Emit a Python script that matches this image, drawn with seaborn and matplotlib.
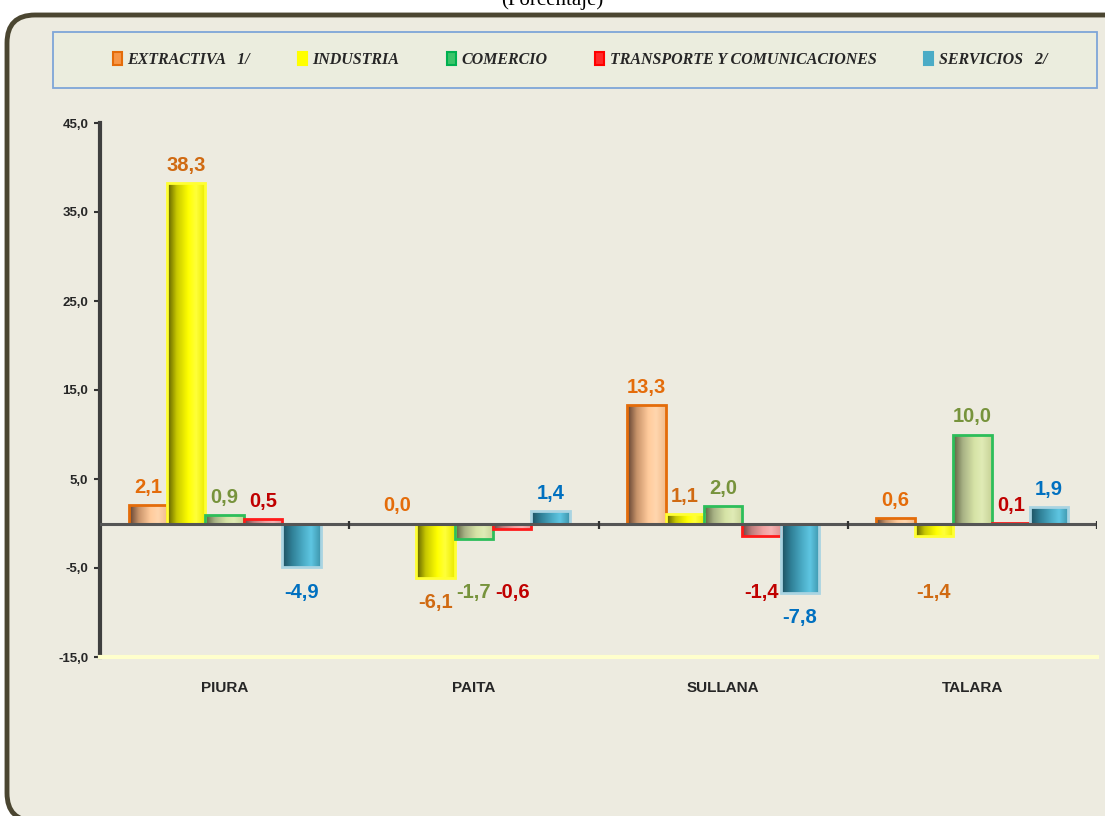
import numpy as np
import pandas as pd
import matplotlib
matplotlib.use("Agg")
import matplotlib.pyplot as plt
from matplotlib.colors import LinearSegmentedColormap
from matplotlib.patches import FancyBboxPatch, Rectangle, Patch
import seaborn as sns

# Data
regiones = ["PIURA", "PAITA", "SULLANA", "TALARA"]
sectores = ["EXTRACTIVA   1/", "INDUSTRIA", "COMERCIO",
            "TRANSPORTE Y COMUNICACIONES", "SERVICIOS   2/"]
extractiva = [2.1, 0.0, 13.3, 0.6]
industria = [38.3, -6.1, 1.1, -1.4]
comercio = [0.9, -1.7, 2.0, 10.0]
transporte = [0.5, -0.6, -1.4, 0.1]
servicios = [-4.9, 1.4, -7.8, 1.9]
yticks = [-15, -5, 5, 15, 25, 35, 45]

series = [extractiva, industria, comercio, transporte, servicios]
df = pd.DataFrame({
    "region": regiones * len(sectores),
    "sector": [s for s in sectores for _ in regiones],
    "valor": [v for vals in series for v in vals],
})

# colours per sector
legend_face = ["#F79646", "#FFFF00", "#3CC46A", "#FF2A2A", "#4BACC6"]
legend_edge = ["#E46C0A", "#FFFF00", "#00B050", "#FF0000", "#4BACC6"]
bar_edge = ["#E46C0A", "#FFFF33", "#2DBE5A", "#FF1A1A", "#A9D4E2"]
label_col = ["#E46C0A", "#D06A12", "#77933C", "#C00000", "#0070C0"]
gradients = [
    ["#5E4030", "#C8936A", "#FFCB9C", "#FFD6AE", "#F2BC8C"],
    ["#5A5A00", "#C8C800", "#FFFF00", "#FFFF3A", "#EAEA00"],
    ["#5C6040", "#A8B285", "#D6E3A6", "#E0EBB6", "#C8D398"],
    ["#6E4444", "#C07E7E", "#F2A2A2", "#F6B4B4", "#E29494"],
    ["#1C4E5E", "#2F7F96", "#4BACC6", "#5EC6E2", "#3E95AC"],
]

sns.set_theme(style="white")
plt.rcParams["font.family"] = ["Liberation Sans", "DejaVu Sans"]

fig = plt.figure(figsize=(11.05, 8.16), dpi=100, facecolor="white")

# rounded outer frame
frame = FancyBboxPatch((0.07, -0.05), 11.3, 8.06,
                       boxstyle="round,pad=0,rounding_size=0.28",
                       transform=fig.dpi_scale_trans, facecolor="#EDEBE0",
                       edgecolor="#4B4631", linewidth=3.5, zorder=-3)
fig.patches.append(frame)

# legend box
fig.patches.append(Rectangle((53 / 1105, 1 - 88 / 816), 1044 / 1105, 56 / 816,
                             transform=fig.transFigure, facecolor="#EBEDDE",
                             edgecolor="#7EA6D8", linewidth=1.3, zorder=-2))

fig.text(0.5, 1 - 5 / 816, "(Porcentaje)", ha="center", va="baseline",
         fontsize=15, family="Liberation Serif", color="black")

ax = fig.add_axes([100 / 1105, 1 - 657 / 816, 997 / 1105, 534 / 816])
ax.set_facecolor("none")

sns.barplot(data=df, x="region", y="valor", hue="sector", hue_order=sectores,
            palette=legend_face, width=0.77, saturation=1, legend=False,
            ax=ax, zorder=2)

ax.set_xlim(-0.5, 3.5)
ax.set_ylim(-15, 45)

# gradient fill for each bar
xs = np.linspace(0, 1, 80)[None, :]
for i, cont in enumerate(ax.containers):
    cmap = LinearSegmentedColormap.from_list(
        "g%d" % i, list(zip([0, 0.25, 0.55, 0.75, 1.0], gradients[i])))
    for bar, v in zip(cont.patches, series[i]):
        x0 = bar.get_x()
        w = bar.get_width()
        y0, h = bar.get_y(), bar.get_height()
        bar.set_facecolor("none")
        bar.set_edgecolor(bar_edge[i])
        bar.set_linewidth(2)
        bar.set_zorder(2.5)
        im = ax.imshow(xs, cmap=cmap, aspect="auto", zorder=2,
                       extent=[x0, x0 + w, min(y0, y0 + h), max(y0, y0 + h)])
        im.set_clip_path(bar)
        cx = x0 + w / 2
        txt = ("%.1f" % v).replace(".", ",")
        if v >= 0:
            ax.text(cx, v + 1.35, txt, ha="center", va="baseline",
                    fontsize=14.5, fontweight="bold", color=label_col[i])
        else:
            ax.text(cx, min(v, -4.9) - 1.75, txt, ha="center", va="top",
                    fontsize=14.5, fontweight="bold", color=label_col[i])

ax.set_xlim(-0.5, 3.5)
ax.set_ylim(-15, 45)

# zero line with small category separators
ax.axhline(0, color="#555555", lw=2.2, zorder=3)
ax.vlines(np.arange(len(regiones)) + 0.5, -0.6, 0.3, color="#333333", lw=1.6, zorder=3)

ax.set_yticks(yticks)
ax.set_yticklabels([("%.1f" % t).replace(".", ",") for t in yticks],
                   fontsize=9.5, fontweight="bold")
ax.tick_params(axis="y", left=True, length=4, width=1.5, color="#333333", pad=4.5)
ax.tick_params(axis="x", bottom=False, length=0, pad=17)
for lab in ax.get_xticklabels():
    lab.set_fontsize(11)
    lab.set_fontweight("bold")
ax.set_xlabel("")
ax.set_ylabel("")
for s in ["top", "right"]:
    ax.spines[s].set_visible(False)
ax.spines["left"].set_color("#3F3F3F")
ax.spines["left"].set_linewidth(3)
ax.spines["bottom"].set_color("#FFFFCC")
ax.spines["bottom"].set_linewidth(3)

handles = [Patch(facecolor=legend_face[i], edgecolor=legend_edge[i], linewidth=1.5)
           for i in range(len(sectores))]
leg = fig.legend(handles, sectores, loc="center", ncol=5, frameon=False,
                 bbox_to_anchor=(580 / 1105, 1 - 60 / 816),
                 prop={"family": "Liberation Serif", "weight": "bold",
                       "style": "italic", "size": 11.5},
                 handlelength=0.55, handleheight=0.9, handletextpad=0.35,
                 columnspacing=3.0)

fig.savefig("out.png", dpi=100)
